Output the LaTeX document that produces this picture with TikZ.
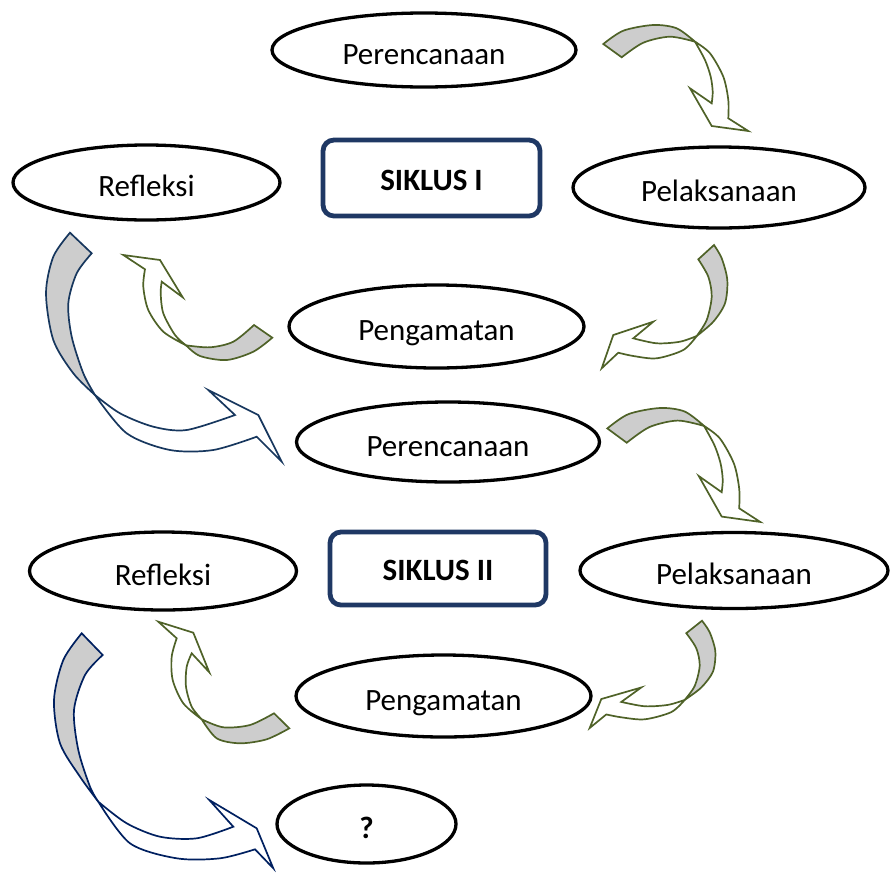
\documentclass[tikz,border=0pt]{standalone}
\usepackage{fontspec}
\setmainfont{Carlito}
\usetikzlibrary{shapes.geometric}
\definecolor{arrgreen}{HTML}{4F6228}
\definecolor{navyA}{HTML}{17375E}
\definecolor{navyB}{HTML}{002060}
\definecolor{boxblue}{HTML}{1F3864}
\definecolor{band}{HTML}{CDCDCD}
\tikzset{
  oval/.style={ellipse, draw=black, line width=3.3pt, inner sep=0pt,
    text height=28pt, text depth=0pt, font=\fontsize{31}{37}\selectfont},
  sbox/.style={rectangle, rounded corners=11pt, draw=boxblue, line width=4.8pt,
    inner sep=0pt, text height=24pt, text depth=0pt,
    font=\fontsize{31}{37}\selectfont\bfseries},
  gback/.style={draw=arrgreen, fill=band, line width=1.7pt},
  gfront/.style={draw=arrgreen, fill=white, line width=1.7pt},
  bbackA/.style={draw=navyA, fill=band, line width=1.7pt},
  bfrontA/.style={draw=navyA, fill=white, line width=1.7pt},
  bbackB/.style={draw=navyB, fill=band, line width=1.7pt},
  bfrontB/.style={draw=navyB, fill=white, line width=1.7pt},
}
% green arrow, top-right type (bending down)
\newcommand{\GArrowOne}{%
  \draw[gback] plot[smooth] coordinates {(603.3,44) (623.3,30.7) (653.3,25) (676.7,28.3) (695,41.7)}
     -- plot[smooth] coordinates {(695,41.7) (670,36.7) (643.3,42.7) (621.7,57.3)} -- cycle;
  \draw[gfront] plot[smooth] coordinates {(695,41.7) (705,60) (710.7,76.7) (712.7,91.7) (711.7,103.3)}
     -- (690,88.3) -- (711.7,126) -- (748.3,131) -- (728.3,118.3)
     -- plot[smooth] coordinates {(728.3,118.3) (728.3,100) (723.3,76.7) (710,53.3) (695,41.7)} -- cycle;
}
% green arrow, right type (bending left)
\newcommand{\GArrowTwo}{%
  \draw[gback] plot[smooth] coordinates {(714,245) (721.7,258.3) (727.3,280) (725,303.3) (713.3,321.7) (696.7,336)}
     -- plot[smooth] coordinates {(696.7,336) (706.7,320) (711.7,296.7) (708.3,276.7) (698.3,259.3)} -- cycle;
  \draw[gfront] plot[smooth] coordinates {(696.7,336) (680,341.7) (656.7,343.3) (633.3,338.3)}
     -- (653.3,321.7) -- (613.3,335) -- (601.7,368.3) -- (618.3,352.7)
     -- plot[smooth] coordinates {(618.3,352.7) (633.3,356) (656.7,358.3) (683.3,350) (696.7,336)} -- cycle;
}
\begin{document}
\begin{tikzpicture}[x=1pt,y=-1pt]
\useasboundingbox (0,0) rectangle (891,873);

% ---------- curved arrows ----------
\GArrowOne
\GArrowTwo
\begin{scope}[shift={(607,408)}, xscale=1.055, yscale=1.075, shift={(-603,-25)}]\GArrowOne\end{scope}
\begin{scope}[shift={(-12,728)}, yscale=0.87, shift={(0,-368.3)}]\GArrowTwo\end{scope}

% G3 (left, bending up), cycle I
\draw[gback] plot[smooth] coordinates {(272.3,337.7) (253.3,351.7) (226.7,360) (200,356) (186,345.3)}
   -- plot[smooth] coordinates {(186,345.3) (210,347.3) (233.3,341.7) (254,325)} -- cycle;
\draw[gfront] plot[smooth] coordinates {(186,345.3) (175,335) (163.3,313.3) (160.7,293.3) (161.7,281.7)}
   -- (182.7,297.3) -- (160,260) -- (123.3,255) -- (145,269.3)
   -- plot[smooth] coordinates {(145,269.3) (143.3,286.7) (148.3,310) (163.3,331.7) (186,345.3)} -- cycle;

% G6 (left, bending up), cycle II
\draw[gback] plot[smooth] coordinates {(289.3,728.3) (266.7,739.3) (240,743.3) (216.7,738.3) (201.7,719.3)}
   -- plot[smooth] coordinates {(201.7,719.3) (223.3,727.3) (250,725) (274,713.3)} -- cycle;
\draw[gfront] plot[smooth] coordinates {(201.7,719.3) (191.7,706.7) (186,686.7) (186.7,666.7) (191.7,653.3)}
   -- (209.3,672.3) -- (193.3,632.7) -- (158.3,621.7) -- (176.7,638.3)
   -- plot[smooth] coordinates {(176.7,638.3) (171.7,656.7) (172.7,680) (183.3,703.3) (201.7,719.3)} -- cycle;

% B1 (big blue, cycle I to cycle II)
\draw[bbackA] plot[smooth] coordinates {(70,232.7) (53.3,256.7) (46,293.3) (53.3,340) (73.3,373.3) (95,395)}
   -- plot[smooth] coordinates {(95,395) (83.3,373.3) (71.7,336.7) (68.3,303.3) (76.7,273.3) (91.7,253.3)} -- cycle;
\draw[bfrontA] plot[smooth] coordinates {(95,395) (120,413.3) (153.3,426.7) (186.7,430) (235,415)}
   -- (208.3,390) -- (258.3,415) -- (281.7,461.7) -- (256.7,436.7)
   -- plot[smooth] coordinates {(256.7,436.7) (213.3,450) (170,450) (126.7,433.3) (95,395)} -- cycle;

% B2 (big blue, cycle II to ?)
\draw[bbackB] plot[smooth] coordinates {(81.7,633.3) (63.3,660) (54,700) (60,743.3) (80,776.7) (98.3,801.7)}
   -- plot[smooth] coordinates {(98.3,801.7) (90,786.7) (78.3,750) (74,710) (85,675) (102.7,655)} -- cycle;
\draw[bfrontB] plot[smooth] coordinates {(98.3,801.7) (126.7,823.3) (160,836.7) (196.7,838.3) (233.3,826.7)}
   -- (209.3,800) -- (256.7,828.3) -- (273.3,868.3) -- (255,849.3)
   -- plot[smooth] coordinates {(255,849.3) (220,858.3) (176.7,858.3) (130,843.3) (98.3,801.7)} -- cycle;

% ---------- nodes ----------
\node[oval, minimum width=304pt, minimum height=74pt] (per1) at (424,50) {Perencanaan};
\node[oval, minimum width=292pt, minimum height=81pt] (pel1) at (719,187.5) {Pelaksanaan};
\node[oval, minimum width=267pt, minimum height=75pt] (ref1) at (146.5,182.5) {Refleksi};
\node[oval, minimum width=295pt, minimum height=83pt] (pen1) at (436.5,326.5) {Pengamatan};
\node[sbox, minimum width=217pt, minimum height=76pt] (sik1) at (431.5,178) {SIKLUS I};

\node[oval, minimum width=303pt, minimum height=80pt] (per2) at (448,442) {Perencanaan};
\node[oval, minimum width=308pt, minimum height=76pt] (pel2) at (734,570.5) {Pelaksanaan};
\node[oval, minimum width=267pt, minimum height=78pt] (ref2) at (163,571) {Refleksi};
\node[oval, minimum width=295pt, minimum height=82pt] (pen2) at (443.5,696) {Pengamatan};
\node[sbox, minimum width=216pt, minimum height=73pt] (sik2) at (438,568.5) {SIKLUS II};

\node[oval, minimum width=179pt, minimum height=78pt, font=\fontsize{31}{37}\selectfont\bfseries] (q) at (366.5,824) {?};
\end{tikzpicture}
\end{document}
